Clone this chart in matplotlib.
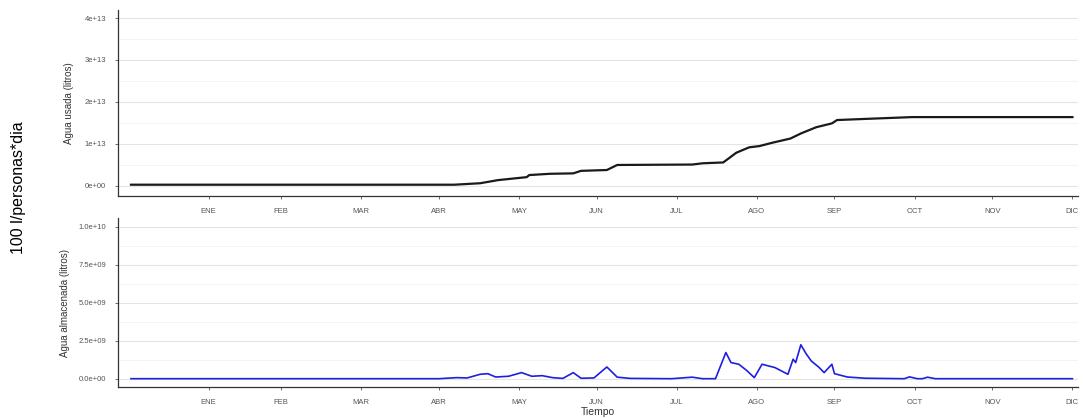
import numpy as np
import matplotlib.pyplot as plt

# Months (tick labels placed at month ends, day of year)
months = ['ENE', 'FEB', 'MAR', 'ABR', 'MAY', 'JUN', 'JUL', 'AGO', 'SEP', 'OCT', 'NOV', 'DIC']
month_days = [31, 59, 90, 120, 151, 181, 212, 243, 273, 304, 334, 365]

# Cumulative water used (litros)
used_day = [1, 126, 136, 143, 154, 155, 163, 172, 175, 185, 189, 218, 222, 230,
            235, 240, 244, 249, 256, 260, 266, 272, 274, 282, 303, 365]
used_val = [0.03e13, 0.03e13, 0.065e13, 0.14e13, 0.21e13, 0.26e13, 0.29e13, 0.30e13,
            0.36e13, 0.38e13, 0.50e13, 0.51e13, 0.54e13, 0.56e13, 0.79e13, 0.92e13,
            0.95e13, 1.03e13, 1.13e13, 1.25e13, 1.40e13, 1.49e13, 1.57e13, 1.59e13,
            1.64e13, 1.64e13]

# Stored water (litros)
stored_day = [1, 120, 127, 131, 136, 139, 142, 147, 152, 156, 160, 164, 168, 172, 175,
              180, 185, 189, 194, 210, 218, 222, 227, 231, 233, 236, 239, 242, 245,
              250, 255, 257, 258, 260, 262, 264, 267, 269, 272, 273, 278, 285, 300,
              302, 305, 307, 309, 312, 365]
stored_val = [0.0, 0.0, 0.07e9, 0.05e9, 0.29e9, 0.33e9, 0.11e9, 0.16e9, 0.40e9, 0.16e9,
              0.20e9, 0.07e9, 0.02e9, 0.40e9, 0.03e9, 0.05e9, 0.77e9, 0.10e9, 0.02e9,
              0.0, 0.10e9, 0.0, 0.0, 1.72e9, 1.06e9, 0.95e9, 0.55e9, 0.07e9, 0.95e9,
              0.73e9, 0.29e9, 1.28e9, 1.06e9, 2.23e9, 1.65e9, 1.17e9, 0.75e9, 0.40e9,
              0.95e9, 0.33e9, 0.11e9, 0.03e9, 0.0, 0.12e9, 0.0, 0.0, 0.10e9, 0.0, 0.0]

used_ticks = [0, 1e13, 2e13, 3e13, 4e13]
used_labels = ['0e+00', '1e+13', '2e+13', '3e+13', '4e+13']
stored_ticks = [0, 2.5e9, 5e9, 7.5e9, 1e10]
stored_labels = ['0.0e+00', '2.5e+09', '5.0e+09', '7.5e+09', '1.0e+10']

plt.rcParams['font.family'] = ['Liberation Sans', 'DejaVu Sans']

fig = plt.figure(figsize=(10.83, 4.18), dpi=100)
ax1 = fig.add_axes([0.109, 0.531, 0.886, 0.445])
ax2 = fig.add_axes([0.109, 0.074, 0.886, 0.404])

ax1.plot(used_day, used_val, color='#1a1a1a', linewidth=1.6)
ax2.plot(stored_day, stored_val, color='#1f1fe0', linewidth=1.2)

for ax, ticks, labels, lim in [(ax1, used_ticks, used_labels, (-0.24e13, 4.19e13)),
                               (ax2, stored_ticks, stored_labels, (-0.55e9, 10.55e9))]:
    ax.set_xlim(-4, 367)
    ax.set_ylim(*lim)
    ax.set_xticks(month_days)
    ax.set_xticklabels(months)
    ax.set_yticks(ticks)
    ax.set_yticklabels(labels)
    minor = [(a + b) / 2 for a, b in zip(ticks[:-1], ticks[1:])]
    ax.set_yticks(minor, minor=True)
    ax.tick_params(axis='y', which='minor', length=0)
    ax.grid(axis='y', which='major', color='#e4e4e4', linewidth=0.8)
    ax.grid(axis='y', which='minor', color='#f2f2f2', linewidth=0.6)
    ax.set_axisbelow(True)
    ax.tick_params(axis='both', which='major', labelsize=5.5, colors='#555555',
                   length=2.5, width=0.6, pad=6)
    for side in ['top', 'right']:
        ax.spines[side].set_visible(False)
    for side in ['left', 'bottom']:
        ax.spines[side].set_color('#333333')
        ax.spines[side].set_linewidth(0.9)

ax1.set_ylabel('Agua usada (litros)', fontsize=7, color='#333333', labelpad=8)
ax2.set_ylabel('Agua almacenada (litros)', fontsize=7, color='#333333', labelpad=6)
ax2.set_xlabel('Tiempo', fontsize=7.5, color='#333333', labelpad=1)

fig.text(0.017, 0.55, '100 l/personas*dia', rotation=90, fontsize=11.5,
         ha='center', va='center')

fig.savefig('out.png', dpi=100)
